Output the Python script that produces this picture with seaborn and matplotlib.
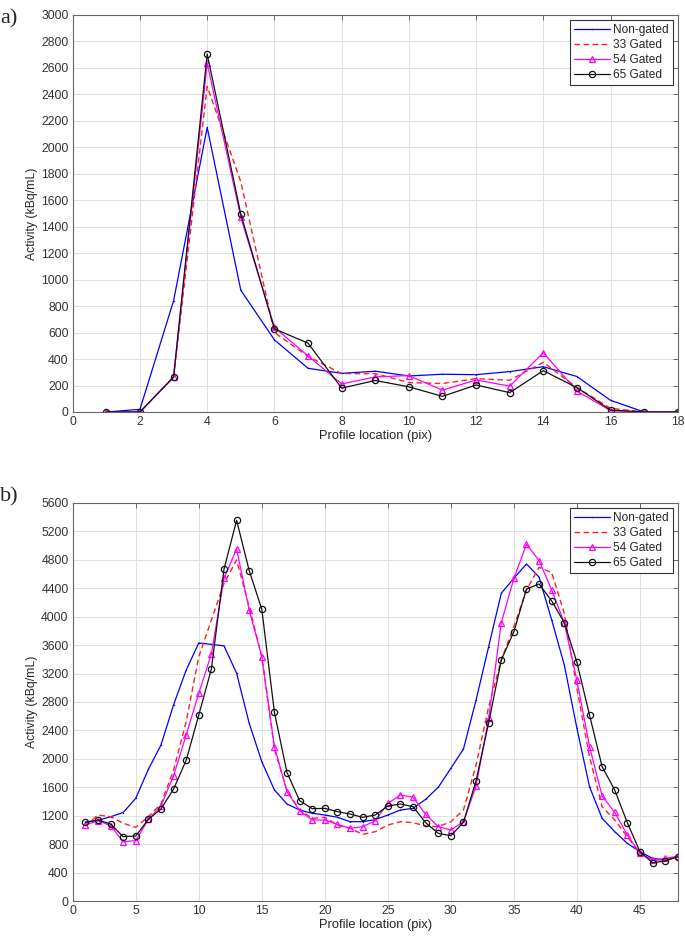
import numpy as np
import pandas as pd
import matplotlib
matplotlib.use("Agg")
import matplotlib.pyplot as plt
import seaborn as sns

# Style
sns.set_style("whitegrid", {"grid.color": "#e3e3e3", "axes.edgecolor": "#555555"})
plt.rcParams['font.family'] = ['Liberation Sans', 'DejaVu Sans']

# ---- data: panel a) ----
x_a = list(range(1, 19))
nongated_a = [0, 20, 840, 2150, 920, 545, 330, 292, 308, 272, 285, 282, 305, 342, 268, 88, 0, 0]
gated33_a = [0, 0, 262, 2460, 1740, 600, 420, 290, 290, 222, 215, 252, 240, 375, 185, 28, 0, 0]
gated54_a = [0, 0, 262, 2635, 1470, 640, 423, 212, 265, 275, 165, 242, 195, 448, 158, 10, 0, 0]
gated65_a = [0, 0, 265, 2705, 1495, 628, 520, 180, 238, 190, 118, 204, 146, 312, 184, 14, 0, 0]

# ---- data: panel b) ----
x_b = list(range(1, 49))
nongated_b = [1110, 1135, 1185, 1245, 1445, 1853, 2195, 2760, 3250, 3630, 3610, 3590, 3205, 2500,
              1960, 1562, 1365, 1280, 1234, 1210, 1178, 1116, 1116, 1145, 1210, 1280, 1304, 1431,
              1600, 1867, 2139, 2828, 3580, 4330, 4540, 4742, 4555, 3954, 3321, 2430, 1609, 1163,
              976, 811, 694, 600, 577, 624]
gated33_b = [1060, 1210, 1187, 1093, 1037, 1187, 1365, 1843, 2523, 3438, 3954, 4470, 4798, 4141,
             3438, 2140, 1550, 1280, 1163, 1177, 1069, 1022, 938, 975, 1069, 1116, 1102, 1055,
             1046, 1116, 1280, 1914, 2734, 3391, 3860, 4376, 4695, 4620, 4048, 2990, 2031, 1327,
             1140, 905, 671, 577, 577, 624]
gated54_b = [1069, 1130, 1060, 835, 849, 1149, 1337, 1764, 2336, 2922, 3475, 4540, 4953, 4094,
             3438, 2172, 1538, 1271, 1140, 1140, 1079, 1022, 1046, 1128, 1374, 1491, 1459, 1219,
             1046, 999, 1116, 1618, 2570, 3916, 4540, 5019, 4789, 4376, 3912, 3105, 2172, 1477,
             1248, 929, 671, 577, 600, 629]
gated65_b = [1107, 1140, 1083, 905, 915, 1149, 1294, 1576, 1980, 2617, 3264, 4667, 5356, 4648,
             4104, 2655, 1806, 1412, 1299, 1304, 1257, 1224, 1177, 1210, 1337, 1365, 1327, 1102,
             952, 919, 1107, 1693, 2509, 3391, 3790, 4390, 4460, 4221, 3916, 3358, 2617, 1890,
             1562, 1102, 694, 539, 563, 624]

labels = ["Non-gated", "33 Gated", "54 Gated", "65 Gated"]

fig = plt.figure(figsize=(6.85, 9.41), dpi=100)
ax_a = fig.add_axes([0.1062, 0.5622, 0.8832, 0.4219])
ax_b = fig.add_axes([0.1062, 0.0425, 0.8832, 0.4230])


def draw_panel(ax, x, series):
    ng, g33, g54, g65 = series
    sns.lineplot(x=x, y=ng, ax=ax, color="#0000ff", lw=0.9, marker='.', markersize=2,
                 markeredgewidth=0, label=labels[0])
    sns.lineplot(x=x, y=g33, ax=ax, color="#ff2020", lw=1.0, linestyle=(0, (4, 2.5)),
                 label=labels[1])
    sns.lineplot(x=x, y=g54, ax=ax, color="#ff00ff", lw=0.9, marker='^', markersize=5,
                 markerfacecolor='none', markeredgecolor="#ff00ff", markeredgewidth=0.9,
                 label=labels[2])
    sns.lineplot(x=x, y=g65, ax=ax, color="#111111", lw=0.9, marker='o', markersize=4.5,
                 markerfacecolor='none', markeredgecolor="#111111", markeredgewidth=0.9,
                 label=labels[3])
    ax.set_xlabel("Profile location (pix)", fontsize=9.3, color="#262626", labelpad=1)
    ax.set_ylabel("Activity (kBq/mL)", fontsize=8.8, color="#262626", labelpad=2)
    ax.tick_params(direction='in', top=True, right=True, length=3.5, width=0.6,
                   labelsize=8.8, colors="#555555", labelcolor="#333333", pad=3)
    for s in ax.spines.values():
        s.set_linewidth(0.8)
        s.set_color("#666666")
    ax.grid(True, color="#e0e0e0", lw=0.7)
    leg = ax.legend(loc='upper right', fontsize=8.6, frameon=True, fancybox=False,
                    edgecolor="#333333", framealpha=1, handlelength=3.0, borderpad=0.35,
                    labelspacing=0.25, handletextpad=0.3, borderaxespad=0.4)
    leg.get_frame().set_linewidth(0.8)


draw_panel(ax_a, x_a, (nongated_a, gated33_a, gated54_a, gated65_a))
ax_a.set_xlim(0, 18)
ax_a.set_ylim(0, 3000)
ax_a.set_xticks(range(0, 19, 2))
ax_a.set_yticks(range(0, 3001, 200))

draw_panel(ax_b, x_b, (nongated_b, gated33_b, gated54_b, gated65_b))
ax_b.set_xlim(0, 48)
ax_b.set_ylim(0, 5600)
ax_b.set_xticks(range(0, 46, 5))
ax_b.set_yticks(range(0, 5601, 400))

fig.text(0.0, 0.99, "a)", fontsize=16, family=['Liberation Serif'], va='top', ha='left')
fig.text(0.0, 0.482, "b)", fontsize=16, family=['Liberation Serif'], va='top', ha='left')

fig.savefig("out.png", dpi=100)
